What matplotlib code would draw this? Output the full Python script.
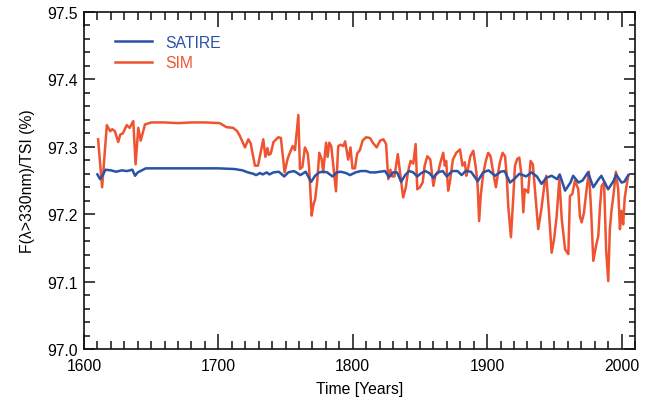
import matplotlib
matplotlib.use("Agg")
import matplotlib.pyplot as plt
from matplotlib.ticker import MultipleLocator, FormatStrFormatter

plt.rcParams['font.family'] = ['Liberation Sans', 'DejaVu Sans']

# SATIRE reconstruction: F(lambda>330nm)/TSI in percent
satire_years = [1610, 1612, 1614, 1616, 1620, 1624, 1628, 1632, 1636, 1638, 1640, 1642,
                1646, 1660, 1680, 1700, 1712, 1718, 1722, 1726, 1728, 1731, 1733, 1736,
                1738, 1741, 1745, 1749, 1752, 1756, 1758, 1761, 1765, 1769, 1772, 1775,
                1778, 1781, 1785, 1788, 1791, 1795, 1798, 1802, 1806, 1810, 1813, 1817,
                1820, 1824, 1827, 1830, 1833, 1836, 1839, 1842, 1845, 1848, 1851, 1854,
                1857, 1860, 1863, 1867, 1870, 1874, 1878, 1881, 1884, 1888, 1893, 1897,
                1901, 1906, 1910, 1913, 1917, 1920, 1924, 1929, 1933, 1937, 1940.5, 1944,
                1948, 1952, 1954, 1958, 1962, 1964, 1968, 1971, 1975, 1979, 1983, 1985,
                1990, 1994, 1996, 2000, 2002, 2005]
satire_vals = [97.259, 97.252, 97.258, 97.266, 97.265, 97.263, 97.265, 97.264, 97.266, 97.257,
               97.262, 97.264, 97.268, 97.268, 97.268, 97.268, 97.267, 97.265, 97.262, 97.260,
               97.258, 97.261, 97.259, 97.262, 97.259, 97.262, 97.263, 97.256, 97.262, 97.264,
               97.262, 97.258, 97.263, 97.248, 97.257, 97.262, 97.263, 97.262, 97.256, 97.262,
               97.263, 97.261, 97.258, 97.262, 97.264, 97.264, 97.262, 97.262, 97.263, 97.264,
               97.255, 97.262, 97.262, 97.248, 97.258, 97.264, 97.262, 97.256, 97.261, 97.264,
               97.261, 97.254, 97.262, 97.264, 97.256, 97.264, 97.264, 97.258, 97.264, 97.263,
               97.249, 97.262, 97.265, 97.257, 97.263, 97.264, 97.247, 97.252, 97.260, 97.256,
               97.262, 97.256, 97.245, 97.254, 97.257, 97.252, 97.259, 97.235, 97.247, 97.257,
               97.247, 97.250, 97.262, 97.240, 97.252, 97.257, 97.237, 97.249, 97.259, 97.247,
               97.248, 97.258]

# SIM-based reconstruction
sim_years = [1610.5, 1613.5, 1617, 1619.5, 1621, 1623, 1625.5, 1627, 1629, 1631.8, 1634,
             1636.7, 1638.4, 1640.4, 1642.2, 1645.4, 1650, 1660, 1670, 1680, 1690, 1701,
             1706, 1711, 1714, 1716, 1719.8, 1722.3, 1724, 1727.2, 1729.5, 1733.4, 1735,
             1736.5, 1737.5, 1739, 1741, 1744.6, 1746.5, 1749.3, 1751.5, 1753, 1755.3, 1757,
             1759.5, 1760.7, 1762.5, 1764.4, 1766.5, 1767.5, 1769.4, 1770.8, 1772, 1773.6,
             1775.1, 1776.8, 1778, 1780.1, 1781.3, 1782.5, 1784, 1785.7, 1787.5, 1789.2,
             1791, 1793, 1794.3, 1796.6, 1798.3, 1799.8, 1801.6, 1803.3, 1805.3, 1807.3,
             1809.8, 1812.8, 1815.3, 1817.8, 1820.3, 1822.8, 1824.8, 1826.4, 1828, 1829.4,
             1831, 1833.5, 1837.5, 1839.5, 1841, 1843, 1845, 1846.8, 1848, 1850, 1852,
             1853.5, 1855.5, 1857.7, 1860, 1861.5, 1863.5, 1865, 1867.3, 1868.5, 1869.5,
             1871, 1872.2, 1874.5, 1877, 1879.8, 1881.6, 1883.4, 1884.5, 1885.7, 1887.5,
             1889.7, 1891.7, 1893, 1894, 1895.2, 1897, 1899, 1900.8, 1902.5, 1904.5, 1906.5,
             1908.2, 1909.5, 1911.5, 1913.3, 1914.5, 1915.7, 1917.7, 1919.5, 1920.7, 1922.4,
             1923.9, 1925.6, 1926.9, 1928, 1929.3, 1930.5, 1932.3, 1934, 1936, 1938, 1940.3,
             1942.8, 1944, 1946, 1948, 1949.8, 1951.7, 1953.7, 1955.5, 1958, 1960.4, 1961.6,
             1963.4, 1965.3, 1967.8, 1969, 1970.3, 1972, 1974, 1975.7, 1977.2, 1979, 1981,
             1982.7, 1984, 1985.2, 1987, 1988.5, 1990.1, 1991.3, 1992.5, 1994.2, 1995.8,
             1997.5, 1998.8, 2000, 2001.2, 2002.4, 2003.7, 2005]
sim_vals = [97.311, 97.240, 97.332, 97.323, 97.326, 97.323, 97.307, 97.318, 97.320, 97.332,
            97.328, 97.338, 97.274, 97.328, 97.309, 97.333, 97.336, 97.336, 97.335, 97.336,
            97.336, 97.335, 97.329, 97.328, 97.323, 97.316, 97.299, 97.311, 97.305, 97.272,
            97.272, 97.311, 97.285, 97.298, 97.288, 97.290, 97.307, 97.314, 97.313, 97.262,
            97.282, 97.290, 97.301, 97.295, 97.347, 97.267, 97.270, 97.299, 97.290, 97.270,
            97.198, 97.215, 97.222, 97.250, 97.291, 97.282, 97.262, 97.306, 97.285, 97.306,
            97.301, 97.268, 97.234, 97.301, 97.303, 97.301, 97.308, 97.281, 97.299, 97.268,
            97.268, 97.290, 97.295, 97.309, 97.314, 97.313, 97.305, 97.299, 97.309, 97.311,
            97.304, 97.252, 97.266, 97.256, 97.256, 97.289, 97.225, 97.240, 97.262, 97.279,
            97.275, 97.304, 97.237, 97.240, 97.247, 97.272, 97.286, 97.281, 97.242, 97.258,
            97.261, 97.275, 97.291, 97.272, 97.279, 97.235, 97.247, 97.281, 97.291, 97.296,
            97.272, 97.277, 97.257, 97.267, 97.286, 97.294, 97.267, 97.240, 97.190, 97.227,
            97.259, 97.279, 97.291, 97.286, 97.262, 97.240, 97.262, 97.277, 97.291, 97.286,
            97.259, 97.212, 97.166, 97.227, 97.272, 97.282, 97.284, 97.257, 97.203, 97.237,
            97.235, 97.232, 97.279, 97.274, 97.225, 97.178, 97.207, 97.247, 97.257, 97.203,
            97.143, 97.163, 97.197, 97.252, 97.193, 97.148, 97.141, 97.227, 97.230, 97.250,
            97.237, 97.197, 97.188, 97.202, 97.237, 97.263, 97.212, 97.131, 97.153, 97.168,
            97.212, 97.242, 97.247, 97.148, 97.101, 97.178, 97.205, 97.232, 97.263, 97.237,
            97.178, 97.205, 97.185, 97.225, 97.242, 97.257]

series_names = ["SATIRE", "SIM"]
series_colors = ["#2a52a6", "#ef5330"]

fig = plt.figure(figsize=(6.51, 4.02), dpi=100)
ax = fig.add_axes([0.129, 0.1286, 0.8464, 0.8398])

ax.plot(sim_years, sim_vals, color=series_colors[1], lw=1.8, label=series_names[1], zorder=2)
ax.plot(satire_years, satire_vals, color=series_colors[0], lw=1.8, label=series_names[0], zorder=3)

ax.set_xlim(1600, 2010)
ax.set_ylim(97.0, 97.5)

ax.xaxis.set_major_locator(MultipleLocator(100))
ax.xaxis.set_minor_locator(MultipleLocator(10))
ax.yaxis.set_major_locator(MultipleLocator(0.1))
ax.yaxis.set_minor_locator(MultipleLocator(0.02))
ax.yaxis.set_major_formatter(FormatStrFormatter('%.1f'))

ax.tick_params(axis='both', which='both', direction='in', top=True, right=True,
               width=1.1, color='#111111', labelsize=11.3)
ax.tick_params(axis='x', which='major', length=11, pad=6)
ax.tick_params(axis='x', which='minor', length=5.5)
ax.tick_params(axis='y', which='major', length=8, pad=4.5)
ax.tick_params(axis='y', which='minor', length=4)
for sp in ax.spines.values():
    sp.set_linewidth(1.2)
    sp.set_color('#111111')

ax.set_xlabel('Time [Years]', fontsize=11.3, labelpad=6)
ax.set_ylabel('F(λ>330nm)/TSI (%)', fontsize=11.3, labelpad=9)

handles, labels = ax.get_legend_handles_labels()
order = [1, 0]
ax.legend([handles[i] for i in order], [labels[i] for i in order],
          loc='upper left', bbox_to_anchor=(0.056, 0.932), frameon=False,
          borderpad=0, borderaxespad=0, handlelength=2.35, handletextpad=0.85,
          labelspacing=0.35, fontsize=11.3, labelcolor='linecolor')

fig.savefig('out.png', dpi=100)
